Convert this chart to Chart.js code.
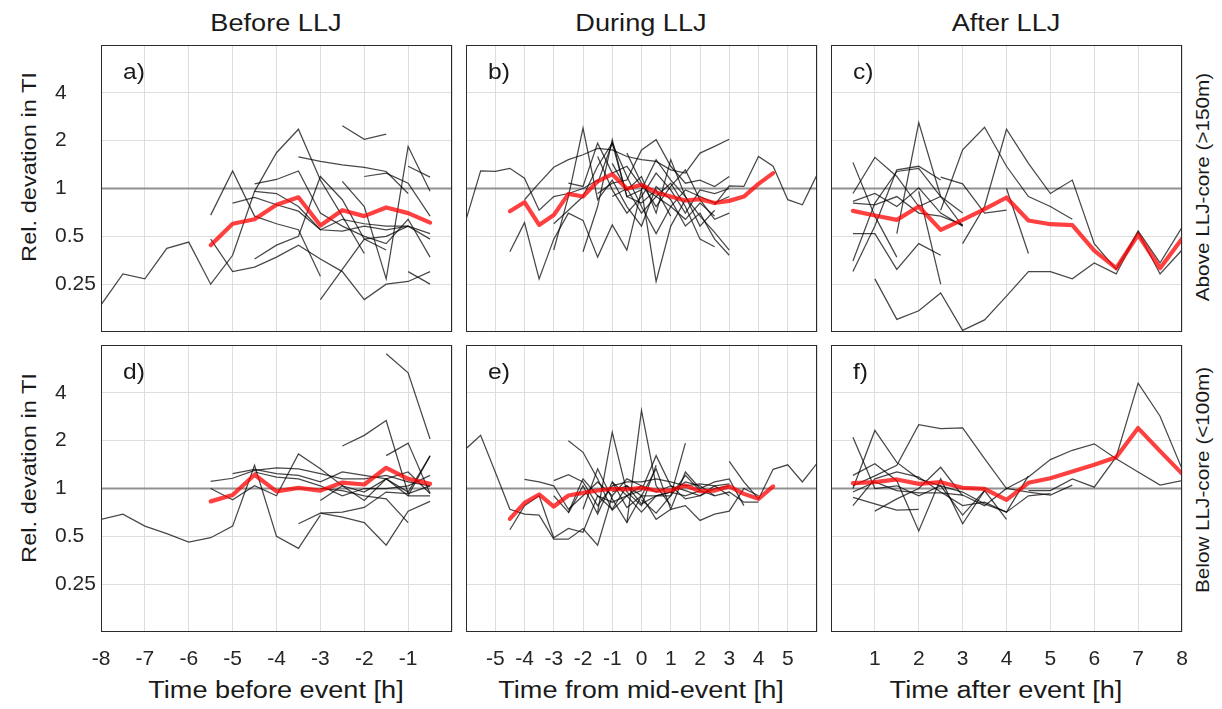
<!DOCTYPE html>
<html>
<head>
<meta charset="utf-8">
<title>Relative deviation in TI around LLJ events</title>
<script src="https://cdn.jsdelivr.net/npm/chart.js@4.4.1/dist/chart.umd.min.js"></script>
<style>
  html, body { margin: 0; padding: 0; background: #fff; }
  body { position: relative; width: 1222px; height: 709px; overflow: hidden;
         font-family: "Liberation Sans", Arial, Helvetica, sans-serif; color: #1a1a1a; }
  canvas { position: absolute; }
  .txt { position: absolute; white-space: nowrap; line-height: 1; }
  .title, .xlabel { font-size: 23px; transform: translate(-50%, -50%) scaleX(1.18); }
  .ylabel { font-size: 20px; transform: translate(-50%, -50%) rotate(-90deg) scaleX(1.18); }
  .side { font-size: 18px; transform: translate(-50%, -50%) rotate(-90deg) scaleX(1.15); }
  .letter { font-size: 22px; transform: translate(0, -50%) scaleX(1.12); transform-origin: left center; }
</style>
</head>
<body>

<div class="txt title" style="left:276px; top:23px">Before LLJ</div>
<div class="txt title" style="left:641px; top:23px">During LLJ</div>
<div class="txt title" style="left:1006px; top:23px">After LLJ</div>

<div class="txt ylabel" style="left:29px; top:167px">Rel. devation in TI</div>
<div class="txt ylabel" style="left:29px; top:468px">Rel. devation in TI</div>

<div class="txt side" style="left:1203px; top:187px">Above LLJ-core (&gt;150m)</div>
<div class="txt side" style="left:1203px; top:480px">Below LLJ-core (&lt;100m)</div>

<div class="txt xlabel" style="left:276px; top:690px">Time before event [h]</div>
<div class="txt xlabel" style="left:641px; top:690px">Time from mid-event [h]</div>
<div class="txt xlabel" style="left:1006px; top:690px">Time after event [h]</div>

<script>
// Time axes (half-hour sampling) and axis ticks
const hoursBefore = [-8, -7.5, -7, -6.5, -6, -5.5, -5, -4.5, -4, -3.5, -3, -2.5, -2, -1.5, -1, -0.5];
const hoursDuring = [-6, -5.5, -5, -4.5, -4, -3.5, -3, -2.5, -2, -1.5, -1, -0.5, 0,
                     0.5, 1, 1.5, 2, 2.5, 3, 3.5, 4, 4.5, 5, 5.5, 6];
const hoursAfter = [0.5, 1, 1.5, 2, 2.5, 3, 3.5, 4, 4.5, 5, 5.5, 6, 6.5, 7, 7.5, 8];

const gridBefore = [-8, -7, -6, -5, -4, -3, -2, -1, 0];
const gridDuring = [-6, -5, -4, -3, -2, -1, 0, 1, 2, 3, 4, 5, 6];
const gridAfter = [0, 1, 2, 3, 4, 5, 6, 7, 8];
const labelsBefore = [-8, -7, -6, -5, -4, -3, -2, -1];
const labelsDuring = [-5, -4, -3, -2, -1, 0, 1, 2, 3, 4, 5];
const labelsAfter = [1, 2, 3, 4, 5, 6, 7, 8];
const yTickValues = [0.25, 0.5, 1, 2, 4];

// Mean relative deviation (red)
const meanAboveBefore = [0.44, 0.60, 0.64, 0.79, 0.88, 0.585, 0.73, 0.67, 0.76, 0.70, 0.61];
const meanAboveDuring = [0.72, 0.82, 0.59, 0.68, 0.925, 0.89, 1.11, 1.23, 0.995, 1.055, 0.944,
                         0.89, 0.84, 0.857, 0.81, 0.836, 0.89, 1.07, 1.25];
const meanAboveAfter = [0.723, 0.676, 0.635, 0.77, 0.549, 0.635, 0.741, 0.878, 0.629, 0.596,
                        0.588, 0.407, 0.315, 0.511, 0.315, 0.482];
const meanBelowBefore = [0.83, 0.91, 1.22, 0.96, 1.01, 0.97, 1.09, 1.06, 1.35, 1.15, 1.07];
const meanBelowDuring = [0.644, 0.812, 0.917, 0.77, 0.904, 0.939, 0.971, 0.995, 0.986, 1.01,
                         0.971, 0.971, 1.044, 0.962, 0.971, 1.03, 0.925, 0.861, 1.03];
const meanBelowAfter = [1.08, 1.096, 1.14, 1.07, 1.096, 1.01, 0.995, 0.848, 1.086, 1.16, 1.28,
                        1.41, 1.575, 2.4, 1.72, 1.24];

// Individual events: first hour + values
const casesAboveBefore = [
  { from: -8, v: [0.185, 0.29, 0.27, 0.42, 0.46, 0.25, 0.38, 0.96, 1.68, 2.36, 1.13, 0.67, 0.39] },
  { from: -5.5, v: [0.68, 1.29, 0.67, 0.60, 0.55, 0.28] },
  { from: -5.5, v: [0.48, 0.30, 0.32, 0.37, 0.44, 0.36, 0.30, 0.20, 0.25, 0.26, 0.30] },
  { from: -5, v: [0.81, 0.88, 0.79, 0.72, 0.55, 0.54, 0.58, 0.55, 0.58, 0.48] },
  { from: -4.5, v: [1.07, 1.14, 1.29, 0.70, 0.58, 0.50, 0.45, 0.64, 0.37] },
  { from: -4.5, v: [0.96, 0.93, 0.77, 0.55, 0.64, 0.60, 0.58, 0.58, 0.52] },
  { from: -4.5, v: [0.36, 0.44, 0.50, 1.19, 0.85, 0.48, 0.41] },
  { from: -3.5, v: [1.58, 1.48, 1.41, 1.36, 1.28, 0.93] },
  { from: -2.5, v: [2.48, 2.04, 2.20] },
  { from: -3, v: [0.20, 0.31, 0.48, 0.50, 0.58] },
  { from: -2.5, v: [1.11, 0.77, 0.27, 1.84, 0.96] },
  { from: -2, v: [1.19, 1.25, 1.08, 0.67] },
  { from: -1, v: [1.38, 1.18] },
  { from: -1, v: [0.30, 0.25] }
];
const casesAboveDuring = [
  { from: -6, v: [0.635, 1.29, 1.28, 1.34, 1.16, 0.73, 0.89, 0.93, 1.0, 1.13] },
  { from: -4, v: [0.85, 1.08, 1.36, 1.52, 1.63, 1.79, 1.75, 1.59, 1.52, 1.48, 1.31, 1.25, 1.67, 1.84, 2.04] },
  { from: -4.5, v: [0.40, 0.61, 0.27, 0.48, 0.70, 0.63, 0.37, 0.59, 0.41, 0.98, 0.26, 0.58, 0.85] },
  { from: -3, v: [0.41, 0.89, 2.4, 0.85, 1.13, 0.77, 0.58, 1.03, 0.85, 0.58, 0.70, 0.48, 0.38] },
  { from: -2, v: [0.40, 0.77, 2.03, 0.89, 0.98, 1.52, 1.13, 0.89, 0.67, 0.53, 0.41] },
  { from: -2.5, v: [1.08, 1.03, 1.93, 1.25, 1.38, 1.03, 0.89, 0.77, 0.64, 0.81, 0.67] },
  { from: -3, v: [0.60, 0.73, 0.89, 1.38, 1.93, 1.19, 0.77, 0.52, 0.77, 0.98, 0.89, 0.81, 0.89] },
  { from: -1.5, v: [0.93, 1.08, 1.13, 1.75, 2.03, 1.38, 1.08, 1.13, 1.03, 1.19] },
  { from: -1, v: [1.44, 0.98, 1.19, 0.70, 1.52, 0.89, 0.58, 0.73] },
  { from: -1.5, v: [1.59, 0.98, 0.70, 0.89, 1.25, 0.98, 0.70, 0.98, 0.93, 1.0] },
  { from: -1, v: [0.89, 1.0, 0.70, 0.89, 1.08, 0.77, 0.48, 0.43] },
  { from: 2.5, v: [0.79, 1.04, 1.03, 1.59, 1.38, 0.85, 0.79, 1.22] },
  { from: -0.5, v: [1.67, 1.08, 0.77, 1.03, 1.31, 0.85, 0.64, 0.70] },
  { from: -1.5, v: [1.08, 1.93, 0.89, 0.81, 0.98, 0.67] }
];
const casesAboveAfter = [
  { from: 1, v: [0.27, 0.15, 0.17, 0.22, 0.128, 0.149, 0.21, 0.30, 0.30, 0.27, 0.34, 0.29, 0.53, 0.29, 0.41] },
  { from: 2.5, v: [0.73, 1.75, 2.43, 1.38, 0.89, 0.77, 0.64] },
  { from: 3, v: [0.45, 0.77, 2.36, 1.44, 0.93, 1.13, 0.45, 0.31, 0.54, 0.34, 0.57] },
  { from: 1.5, v: [0.52, 2.6, 0.89, 0.58] },
  { from: 0.5, v: [1.46, 0.67, 0.37] },
  { from: 0.5, v: [0.93, 1.57, 1.19, 0.77, 0.89, 0.70] },
  { from: 0.5, v: [0.83, 0.93, 0.77, 1.01, 0.70, 0.58] },
  { from: 0.5, v: [0.35, 0.81, 1.28, 1.34, 0.89] },
  { from: 0.5, v: [0.30, 0.58, 1.31, 1.38, 1.13] },
  { from: 0.5, v: [0.52, 0.52, 0.31, 0.45, 0.38] },
  { from: 2, v: [0.96, 0.25] },
  { from: 2.5, v: [1.18, 1.07, 0.70, 0.73] },
  { from: 0.5, v: [0.81, 0.79, 0.89, 0.70, 0.67, 0.59] },
  { from: 4, v: [1.0, 0.39] }
];
const casesBelowBefore = [
  { from: -8, v: [0.64, 0.69, 0.58, 0.52, 0.46, 0.49, 0.58, 1.40, 0.50, 0.42, 0.68] },
  { from: -1.5, v: [7.05, 5.35, 2.05] },
  { from: -2.5, v: [1.85, 2.16, 2.68, 0.93] },
  { from: -1.5, v: [1.61, 1.93, 0.93] },
  { from: -1, v: [0.90, 1.61] },
  { from: -5.5, v: [1.11, 1.16, 1.30, 1.35, 1.33, 1.24, 1.15, 1.15, 1.21, 1.10, 1.04] },
  { from: -5, v: [1.24, 1.32, 1.24, 1.21, 1.10, 1.27, 1.21, 1.15, 1.27, 0.93] },
  { from: -5.5, v: [1.00, 0.85, 1.04, 0.90, 1.65, 1.33, 1.04, 0.95, 1.15, 0.90, 0.90] },
  { from: -4.5, v: [1.27, 1.18, 1.15, 1.04, 0.90, 1.00, 1.00, 1.04, 1.21] },
  { from: -3.5, v: [0.60, 0.70, 0.71, 0.76, 0.95, 0.93, 1.04] },
  { from: -3, v: [0.70, 0.66, 0.61, 0.44, 0.72, 0.83] },
  { from: -3, v: [0.84, 1.04, 0.84, 1.15, 0.95, 1.60] },
  { from: -3, v: [1.00, 0.97, 0.90, 0.86, 0.61] }
];
const casesBelowDuring = [
  { from: -6, v: [1.78, 2.16, 1.27, 0.74, 0.69, 0.68, 0.48, 0.48, 0.56, 0.44, 0.90] },
  { from: 3, v: [1.48, 1.10, 0.86, 1.32, 1.41, 1.10, 1.44] },
  { from: -0.5, v: [0.61, 3.1, 1.04, 0.78] },
  { from: -1.5, v: [0.71, 2.26, 0.95, 0.78, 1.40] },
  { from: 0, v: [0.85, 0.70, 0.90, 1.93] },
  { from: -4.5, v: [0.55, 0.78, 0.90, 0.49, 0.56, 0.53, 0.90, 0.82, 0.90, 0.71, 0.90, 0.95, 1.10, 1.04, 0.90, 0.95, 0.82, 0.82] },
  { from: -4, v: [1.14, 1.10, 1.04, 0.74, 0.90, 1.10, 0.90, 1.15, 1.04] },
  { from: -3, v: [1.12, 1.22, 1.10, 0.78, 1.04, 1.10, 1.10, 1.15, 1.10, 1.04, 1.07, 1.04, 1.07] },
  { from: -2.5, v: [2.0, 1.69, 1.15, 0.73, 0.90, 0.97, 1.61, 1.04, 0.86, 0.90, 1.04, 0.90] },
  { from: -1, v: [0.95, 1.04, 0.90, 1.33, 0.74, 1.27, 1.0, 1.10, 1.15, 0.78] },
  { from: -2, v: [0.74, 1.33, 0.86, 0.61, 0.90, 0.64, 0.74, 0.78, 0.63, 0.69, 0.72, 1.0, 0.90] },
  { from: -1, v: [1.10, 0.90, 1.04, 0.95, 1.04, 0.97, 0.90, 1.0, 1.04] },
  { from: -3, v: [0.90, 0.71, 1.15, 0.90, 0.74, 1.04, 0.80, 0.90, 0.90, 1.21, 0.97] },
  { from: -2.5, v: [0.70, 1.04, 0.69, 1.10, 0.76, 0.90, 0.90, 0.95, 0.90, 0.97, 0.90] }
];
const casesBelowAfter = [
  { from: 0.5, v: [1.04, 1.20, 1.40, 2.52, 2.38, 2.41, 1.54, 1.0, 1.18, 1.52, 1.74, 1.91, 1.54, 1.27, 1.05, 1.12] },
  { from: 4.5, v: [0.97, 0.97, 1.15, 1.02, 1.58, 4.6, 2.85, 1.33] },
  { from: 0.5, v: [2.1, 1.0, 1.04, 0.90, 1.04, 0.68, 0.97, 0.64] },
  { from: 0.5, v: [1.0, 2.32, 1.46, 1.15, 1.04, 0.95, 0.80, 0.71, 1.20] },
  { from: 0.5, v: [1.21, 1.43, 1.12, 0.54, 1.15, 0.60, 0.97] },
  { from: 0.5, v: [0.88, 0.80, 0.73, 0.74] },
  { from: 0.5, v: [0.78, 1.15, 1.27, 1.18, 0.95, 0.78, 0.82, 0.71, 0.90, 0.93] },
  { from: 1, v: [0.72, 0.86, 1.0, 1.36, 0.90] },
  { from: 0.5, v: [0.95, 1.10, 0.97, 0.94, 0.94, 0.91, 0.78, 1.0, 0.95, 0.91, 1.05] }
];

const panels = [
  { letter: 'a)', row: 0, col: 0, hours: hoursBefore, grid: gridBefore, labels: labelsBefore,
    mean: meanAboveBefore, meanFrom: -5.5, cases: casesAboveBefore },
  { letter: 'b)', row: 0, col: 1, hours: hoursDuring, grid: gridDuring, labels: labelsDuring,
    mean: meanAboveDuring, meanFrom: -4.5, cases: casesAboveDuring },
  { letter: 'c)', row: 0, col: 2, hours: hoursAfter, grid: gridAfter, labels: labelsAfter,
    mean: meanAboveAfter, meanFrom: 0.5, cases: casesAboveAfter },
  { letter: 'd)', row: 1, col: 0, hours: hoursBefore, grid: gridBefore, labels: labelsBefore,
    mean: meanBelowBefore, meanFrom: -5.5, cases: casesBelowBefore },
  { letter: 'e)', row: 1, col: 1, hours: hoursDuring, grid: gridDuring, labels: labelsDuring,
    mean: meanBelowDuring, meanFrom: -4.5, cases: casesBelowDuring },
  { letter: 'f)', row: 1, col: 2, hours: hoursAfter, grid: gridAfter, labels: labelsAfter,
    mean: meanBelowAfter, meanFrom: 0.5, cases: casesBelowAfter }
];

// layout of the 2x3 grid of axes
const PLOT_LEFT = [101, 466, 831];
const PLOT_TOP = [45, 345];
const PLOT_W = 351;
const PLOT_H = 287;
const FONT = '"Liberation Sans", Arial, Helvetica, sans-serif';
const GRID_COLOR = '#dedede';

function toPoints(hours, from, values) {
  const start = hours.indexOf(from);
  return values.map((v, i) => ({ x: hours[start + i], y: v }));
}

// MATLAB-style closed box around each axes
const boxPlugin = {
  id: 'axesBox',
  afterDraw(chart) {
    const { ctx, chartArea: a } = chart;
    ctx.save();
    ctx.strokeStyle = '#2b2b2b';
    ctx.lineWidth = 1;
    ctx.strokeRect(a.left + 0.5, a.top + 0.5, a.right - a.left - 1, a.bottom - a.top - 1);
    ctx.restore();
  }
};

function drawPanel(p) {
  // padding wide enough for the tick-label overflow, so the plot area stays fixed
  const yW = p.col === 0 ? 46 : 0;
  const padL = p.col === 0 ? 0 : 20;
  const padR = 24, padT = 18, padB = 18;
  const xH = p.row === 1 ? 44 : 0;
  const w = yW + padL + PLOT_W + padR;
  const h = padT + PLOT_H + xH + padB;

  const canvas = document.createElement('canvas');
  canvas.width = w;
  canvas.height = h;
  canvas.style.left = (PLOT_LEFT[p.col] - yW - padL) + 'px';
  canvas.style.top = (PLOT_TOP[p.row] - padT) + 'px';
  canvas.style.width = w + 'px';
  canvas.style.height = h + 'px';
  document.body.appendChild(canvas);

  const label = document.createElement('div');
  label.className = 'txt letter';
  label.textContent = p.letter;
  label.style.left = (PLOT_LEFT[p.col] + 22) + 'px';
  label.style.top = (PLOT_TOP[p.row] + 27) + 'px';
  document.body.appendChild(label);

  const xMin = p.grid[0];
  const xMax = p.grid[p.grid.length - 1];

  const datasets = [];
  datasets.push({
    data: toPoints(p.hours, p.meanFrom, p.mean),
    borderColor: 'rgba(255, 0, 0, 0.75)',
    borderWidth: 4.2,
    borderJoinStyle: 'round',
    borderCapStyle: 'round',
    order: 0
  });
  p.cases.forEach(c => {
    datasets.push({
      data: toPoints(p.hours, c.from, c.v),
      borderColor: 'rgba(0, 0, 0, 0.72)',
      borderWidth: 1.25,
      order: 1
    });
  });
  // reference level: no deviation
  datasets.push({
    data: [{ x: xMin, y: 1 }, { x: xMax, y: 1 }],
    borderColor: 'rgb(145, 145, 145)',
    borderWidth: 1.8,
    order: 2
  });

  new Chart(canvas, {
    type: 'line',
    data: { datasets },
    plugins: [boxPlugin],
    options: {
      responsive: false,
      animation: false,
      devicePixelRatio: 1,
      events: [],
      layout: { padding: { left: padL, right: padR, top: padT, bottom: padB } },
      elements: { point: { radius: 0 }, line: { tension: 0, fill: false } },
      plugins: { legend: { display: false }, tooltip: { enabled: false } },
      scales: {
        x: {
          type: 'linear',
          min: xMin,
          max: xMax,
          afterBuildTicks: s => { s.ticks = p.grid.map(v => ({ value: v })); },
          afterFit: s => { s.height = xH; },
          grid: { color: GRID_COLOR, lineWidth: 1, drawTicks: false },
          border: { display: false },
          ticks: {
            display: p.row === 1,
            autoSkip: false,
            maxRotation: 0,
            padding: 15,
            color: '#262626',
            font: { family: FONT, size: 21 },
            callback: v => (p.labels.includes(v) ? String(v) : '')
          }
        },
        y: {
          type: 'logarithmic',
          min: 0.125,
          max: 8,
          afterBuildTicks: s => { s.ticks = yTickValues.map(v => ({ value: v })); },
          afterFit: s => { s.width = yW; },
          grid: { color: GRID_COLOR, lineWidth: 1, drawTicks: false },
          border: { display: false },
          ticks: {
            display: p.col === 0,
            crossAlign: 'far',
            padding: 0,
            color: '#262626',
            font: { family: FONT, size: 21 },
            callback: v => String(v)
          }
        }
      }
    }
  });
}

panels.forEach(drawPanel);
</script>
</body>
</html>
